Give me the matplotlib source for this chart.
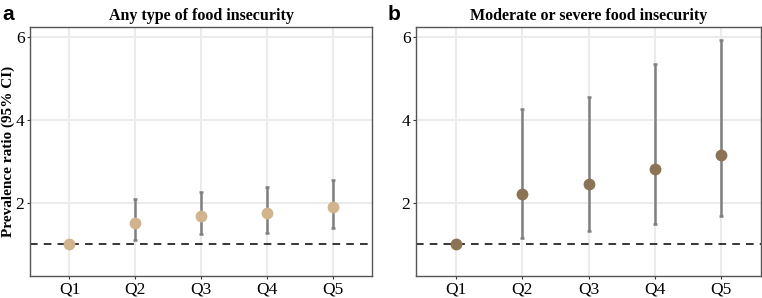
import numpy as np
import matplotlib.pyplot as plt

quintiles = ["Q1", "Q2", "Q3", "Q4", "Q5"]

# any type of food insecurity
any_pr = [1.0, 1.52, 1.68, 1.76, 1.90]
any_lo = [1.0, 1.11, 1.25, 1.28, 1.40]
any_hi = [1.0, 2.09, 2.27, 2.39, 2.56]

# moderate or severe food insecurity
mod_pr = [1.0, 2.22, 2.46, 2.82, 3.16]
mod_lo = [1.0, 1.15, 1.33, 1.49, 1.69]
mod_hi = [1.0, 4.27, 4.55, 5.34, 5.93]

titles = ["Any type of food insecurity", "Moderate or severe food insecurity"]
letters = ["a", "b"]
colors = ["#D2B48C", "#8B7355"]

plt.rcParams['font.family'] = ['Liberation Serif', 'DejaVu Serif']

fig = plt.figure(figsize=(7.62, 2.98), dpi=100)
W, H = 762, 298
boxes = [(30, 27, 372, 276), (416, 27, 761, 276)]

data = [(any_pr, any_lo, any_hi), (mod_pr, mod_lo, mod_hi)]
for i in range(2):
    x0, y0, x1, y1 = boxes[i]
    ax = fig.add_axes([x0 / W, 1 - y1 / H, (x1 - x0) / W, (y1 - y0) / H])
    pr, lo, hi = data[i]
    x = np.arange(1, 6)
    pr = np.array(pr); lo = np.array(lo); hi = np.array(hi)
    ax.axhline(1, color="black", ls=(0, (5, 4)), lw=1.1, zorder=2)
    ax.errorbar(x, pr, yerr=[pr - lo, hi - pr], fmt="none", ecolor="#7f7f7f",
                elinewidth=1.8, capsize=1.2, capthick=1.8, zorder=3)
    ax.plot(x, pr, "o", color=colors[i], ms=8.5, mec="none", zorder=4)
    ax.set_xlim(0.4, 5.6)
    ax.set_ylim(0.24, 6.24)
    ax.set_xticks(x)
    ax.set_xticklabels(quintiles, fontsize=12.5)
    ax.set_yticks([2, 4, 6])
    ax.tick_params(labelsize=12.5, length=2.5, width=0.8, color="#333333", pad=1.5)
    ax.grid(True, color="#EBEBEB", lw=1.5)
    ax.set_axisbelow(True)
    for s in ax.spines.values():
        s.set_color("#555555")
        s.set_linewidth(1.0)
    ax.set_title(titles[i], fontsize=11.5, fontweight="bold", pad=5)
    fig.text((x0 - 28) / W, 1 - 14 / H, letters[i], fontsize=15, fontweight="bold",
             family=["Liberation Sans", "DejaVu Sans"], va="center", ha="left")

fig.text(8 / W, 1 - 151 / H, "Prevalence ratio (95% CI)", rotation=90, fontsize=11,
         fontweight="bold", ha="center", va="center")

fig.savefig("out.png", dpi=100)
